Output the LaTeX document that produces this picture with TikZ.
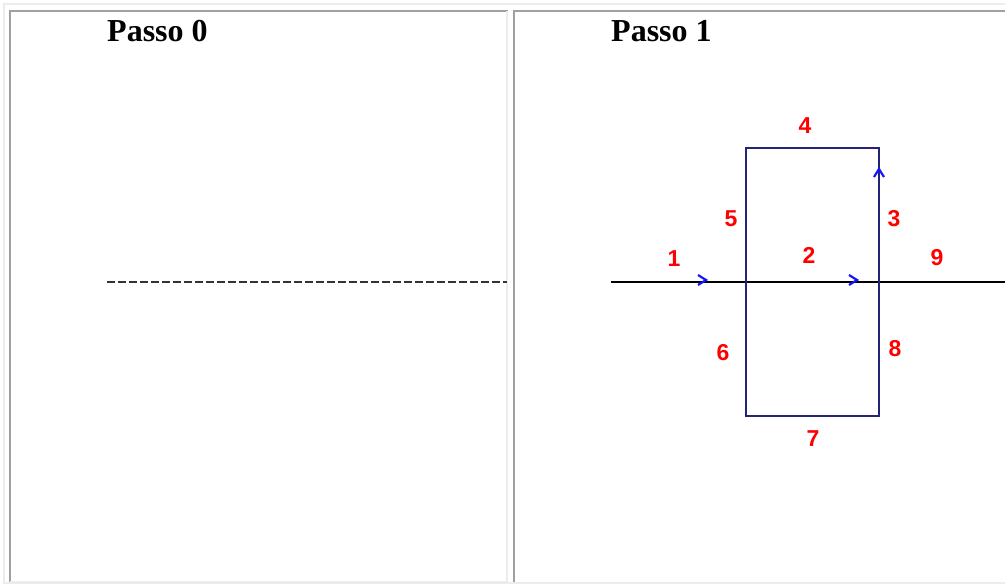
\documentclass[tikz,border=0pt]{standalone}
\usepackage{fontspec}
\setmainfont{Liberation Serif}
\newfontfamily\labelfont{Liberation Sans}
\usetikzlibrary{positioning, calc}

\definecolor{cellDark}{HTML}{A0A0A0}
\definecolor{cellLight}{HTML}{ECECEC}
\definecolor{loopNavy}{RGB}{35,35,120}
\definecolor{tipBlue}{RGB}{20,20,255}

\begin{document}
\begin{tikzpicture}[
    x=1pt, y=-1pt,
    darkedge/.style={draw=cellDark, line width=2pt},
    lightedge/.style={draw=cellLight, line width=2pt},
    title/.style={font=\fontsize{32}{36}\selectfont\bfseries, anchor=base west, inner sep=0pt},
    seglabel/.style={font=\labelfont\fontsize{23}{25}\selectfont\bfseries, text=red, inner sep=0pt},
    wire/.style={draw=black, line width=2.4pt},
    loopline/.style={draw=loopNavy, line width=2.4pt},
    oldwire/.style={draw=black!80, line width=2.6pt, dash pattern=on 8pt off 3pt},
    chev/.style={draw=tipBlue, line width=2.2pt}
]
\useasboundingbox (0,0) rectangle (1005,586);

% Table frame
\draw[lightedge] (4,584) -- (4,4) -- (1005,4);
\draw[lightedge] (4,583) -- (1005,583);

% Cell frames
\draw[darkedge] (10,582) -- (10,11) -- (508,11);
\draw[lightedge] (507,11) -- (507,582) -- (10,582);
\draw[darkedge] (514,582) -- (514,11) -- (1005,11);

% Headings
\node[title] (step0) at (107,42) {Passo 0};
\node[title] (step1) at (611,42) {Passo 1};

% Step 0: the initial segment
\coordinate (s0a) at (107,282);
\coordinate (s0b) at (507,282);
\draw[oldwire] (s0a) -- (s0b);

% Step 1: corners of the loop
\coordinate (in)  at (611,282);
\coordinate (out) at (1005,282);
\coordinate (pl)  at (746,282);
\coordinate (pr)  at (879,282);
\coordinate (tl)  at (746,148);
\coordinate (tr)  at (879,148);
\coordinate (bl)  at (746,416);
\coordinate (br)  at (879,416);

\draw[wire] (in) -- (out);
\draw[loopline] (pr) -- (tr) -- (tl) -- (bl) -- (br) -- (pr);

% Direction marks
\coordinate (m1) at (706,280);
\coordinate (m2) at (857,280);
\coordinate (m3) at (879,169);
\draw[chev] ($(m1)+(-8,-5)$) -- (m1) -- ++(-8,5);
\draw[chev] ($(m2)+(-8,-5)$) -- (m2) -- ++(-8,5);
\draw[chev] ($(m3)+(-5,8)$) -- (m3) -- ++(5,8);

% Segment numbers
\node[seglabel] (n1) at (674,259) {1};
\node[seglabel] (n2) at (809,255) {2};
\node[seglabel] (n3) at (894,219) {3};
\node[seglabel] (n4) at (805,126) {4};
\node[seglabel] (n5) at (731,219) {5};
\node[seglabel] (n6) at (723,353) {6};
\node[seglabel] (n7) at (813,439) {7};
\node[seglabel] (n8) at (895,349) {8};
\node[seglabel] (n9) at (937,258) {9};

\end{tikzpicture}
\end{document}
